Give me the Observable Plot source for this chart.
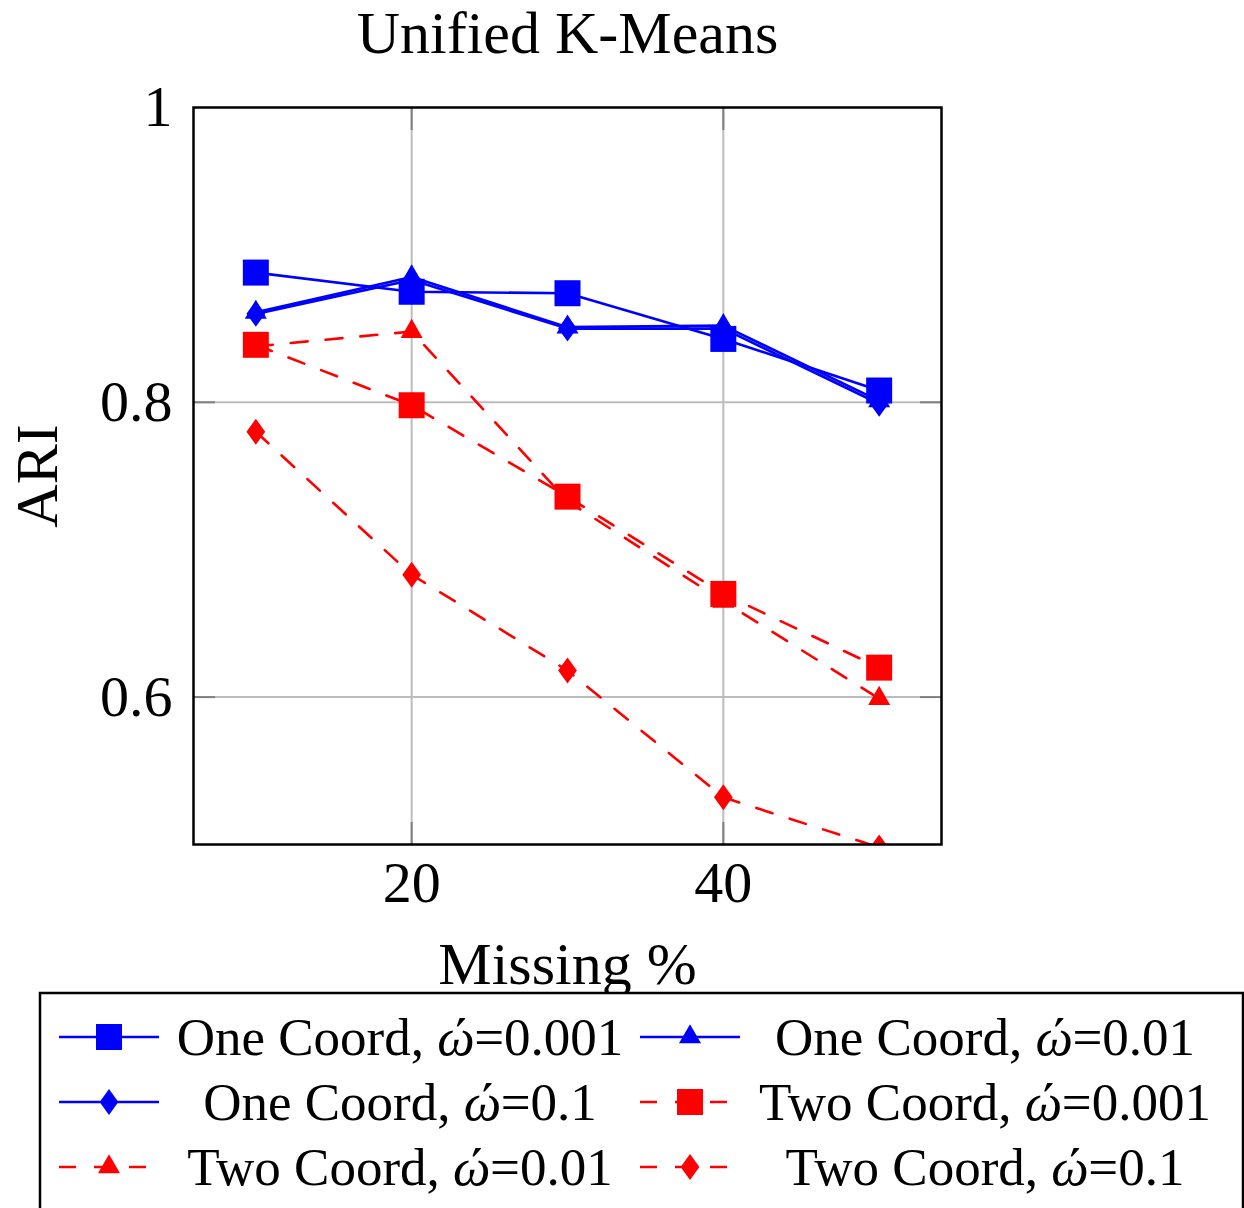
<!DOCTYPE html>
<html>
<head>
<meta charset="utf-8">
<script src="https://cdn.jsdelivr.net/npm/d3@7"></script>
<script src="https://cdn.jsdelivr.net/npm/@observablehq/plot@0.6"></script>
<style>
  body { margin: 0; background: #fff; }
  #wrap { position: relative; width: 1244px; height: 1208px; overflow: hidden; background: #fff; }
  #chart { position: absolute; left: 0; top: 0; }
  #legend { position: absolute; left: 0; top: 0; }
</style>
</head>
<body>
<div id="wrap"><div id="chart"></div><svg id="legend" width="1244" height="1208"></svg></div>
<script>
// ---- data ----
const missing = [10, 20, 30, 40, 50];
const oneCoord001 = [0.888, 0.875, 0.874, 0.843, 0.808];
const oneCoord01  = [0.861, 0.885, 0.851, 0.852, 0.801];
const oneCoord1   = [0.860, 0.883, 0.850, 0.850, 0.799];
const twoCoord001 = [0.839, 0.798, 0.736, 0.670, 0.620];
const twoCoord01  = [0.838, 0.848, 0.733, 0.665, 0.599];
const twoCoord1   = [0.780, 0.683, 0.618, 0.532, 0.498];
const methods = ["One Coord", "One Coord", "One Coord", "Two Coord", "Two Coord", "Two Coord"];
const omegas = ["0.001", "0.01", "0.1", "0.001", "0.01", "0.1"];
const xTicks = [20, 40];
const yTicks = [0.6, 0.8, 1];
const titleText = "Unified K-Means";
const xLabel = "Missing %";
const yLabel = "ARI";

// ---- symbols ----
const square = {draw(ctx, size) { const r = Math.sqrt(size / Math.PI); ctx.rect(-r, -r, 2 * r, 2 * r); }};
const triangle = {draw(ctx, size) { const r = Math.sqrt(size / Math.PI); const h = r * Math.sqrt(3);
  ctx.moveTo(0, -2 * h / 3); ctx.lineTo(r, h / 3); ctx.lineTo(-r, h / 3); ctx.closePath(); }};
const diamond = {draw(ctx, size) { const r = Math.sqrt(size / Math.PI);
  ctx.moveTo(0, -r); ctx.lineTo(0.72 * r, 0); ctx.lineTo(0, r); ctx.lineTo(-0.72 * r, 0); ctx.closePath(); }};

const valuesList = [oneCoord001, oneCoord01, oneCoord1, twoCoord001, twoCoord01, twoCoord1];
const colors = ["#0000ff", "#0000ff", "#0000ff", "#ff0000", "#ff0000", "#ff0000"];
const dashes = [null, null, null, "17,18", "17,18", "17,18"];
const symbols = [square, triangle, diamond, square, triangle, diamond];
const radii = [13, 11, 13, 13, 11, 13];

const series = valuesList.map((vals, i) => ({
  name: methods[i] + ", ώ=" + omegas[i],
  color: colors[i], dash: dashes[i], symbol: symbols[i], r: radii[i],
  data: missing.map((m, j) => ({x: m, y: vals[j]}))
}));

const FONT = "'Liberation Serif', 'DejaVu Serif', serif";

const marks = [
  Plot.gridX(xTicks, {stroke: "#bcbcbc", strokeOpacity: 1, strokeWidth: 2}),
  Plot.gridY(yTicks.filter(v => v < 1), {stroke: "#bcbcbc", strokeOpacity: 1, strokeWidth: 2}),
  Plot.axisX(xTicks, {anchor: "bottom", tickSize: -22, tickFormat: () => "", stroke: "#808080", strokeWidth: 2}),
  Plot.axisX(xTicks, {anchor: "top", tickSize: -22, tickFormat: () => "", stroke: "#808080", strokeWidth: 2}),
  Plot.axisY(yTicks.filter(v => v < 1), {anchor: "left", tickSize: -22, tickFormat: () => "", stroke: "#808080", strokeWidth: 2}),
  Plot.axisY(yTicks.filter(v => v < 1), {anchor: "right", tickSize: -22, tickFormat: () => "", stroke: "#808080", strokeWidth: 2}),
];
for (const s of series) {
  marks.push(Plot.line(s.data, {x: "x", y: "y", stroke: s.color, strokeWidth: 2.6, strokeDasharray: s.dash, clip: true}));
  marks.push(Plot.dot(s.data, {x: "x", y: "y", symbol: () => s.symbol, fill: s.color, stroke: "none", r: s.r, clip: true}));
}
marks.push(
  Plot.frame({stroke: "#000", strokeWidth: 2.5}),
  Plot.axisX(xTicks, {anchor: "bottom", tickSize: 0, tickPadding: 16, fontSize: 58, fontFamily: FONT, tickFormat: d => String(d)}),
  Plot.axisY(yTicks, {anchor: "left", tickSize: 0, tickPadding: 21, fontSize: 58, fontFamily: FONT, tickFormat: d => String(d)}),
  Plot.text([xLabel], {frameAnchor: "bottom", dy: 120, lineAnchor: "middle", textAnchor: "middle", fontSize: 60, fontFamily: FONT, fill: "#000"}),
  Plot.text([yLabel], {frameAnchor: "left", dx: -156, rotate: -90, lineAnchor: "middle", textAnchor: "middle", fontSize: 60, fontFamily: FONT, fill: "#000"}),
  Plot.text([titleText], {frameAnchor: "top", dy: -74, lineAnchor: "middle", textAnchor: "middle", fontSize: 60, fontFamily: FONT, fill: "#000"})
);

const chart = Plot.plot({
  width: 1244, height: 993,
  marginTop: 107, marginBottom: 149, marginLeft: 193, marginRight: 303,
  x: {domain: [6, 54], label: null},
  y: {domain: [0.5, 1], label: null},
  style: {background: "#fff", fontFamily: FONT, color: "#000", overflow: "visible"},
  marks
});
document.getElementById("chart").appendChild(chart);

// ---- legend ----
const lg = d3.select("#legend");
lg.append("rect").attr("x", 40).attr("y", 993).attr("width", 1203).attr("height", 260)
  .attr("fill", "#fff").attr("stroke", "#000").attr("stroke-width", 2.5);
const rowY = [1037, 1102, 1167];
const swatchX = [109, 690];
const textX = [400, 985];
const symbolPath = (sym, r) => { const p = d3.path(); sym.draw(p, Math.PI * r * r); return p.toString(); };
series.forEach((s, i) => {
  const row = Math.floor(i / 2), col = i % 2;
  const cx = swatchX[col], cy = rowY[row];
  lg.append("line").attr("x1", cx - 50).attr("x2", cx + 50).attr("y1", cy).attr("y2", cy)
    .attr("stroke", s.color).attr("stroke-width", 2.6).attr("stroke-dasharray", s.dash);
  lg.append("path").attr("d", symbolPath(s.symbol, s.r)).attr("transform", `translate(${cx},${cy})`).attr("fill", s.color);
  const t = lg.append("text").attr("x", textX[col]).attr("y", cy).attr("dy", "0.34em")
    .attr("text-anchor", "middle").attr("font-family", FONT).attr("font-size", 53).attr("fill", "#000");
  t.append("tspan").text(methods[i] + ", ");
  t.append("tspan").attr("font-style", "italic").text("ώ");
  t.append("tspan").text("=" + omegas[i]);
});
</script>
</body>
</html>
